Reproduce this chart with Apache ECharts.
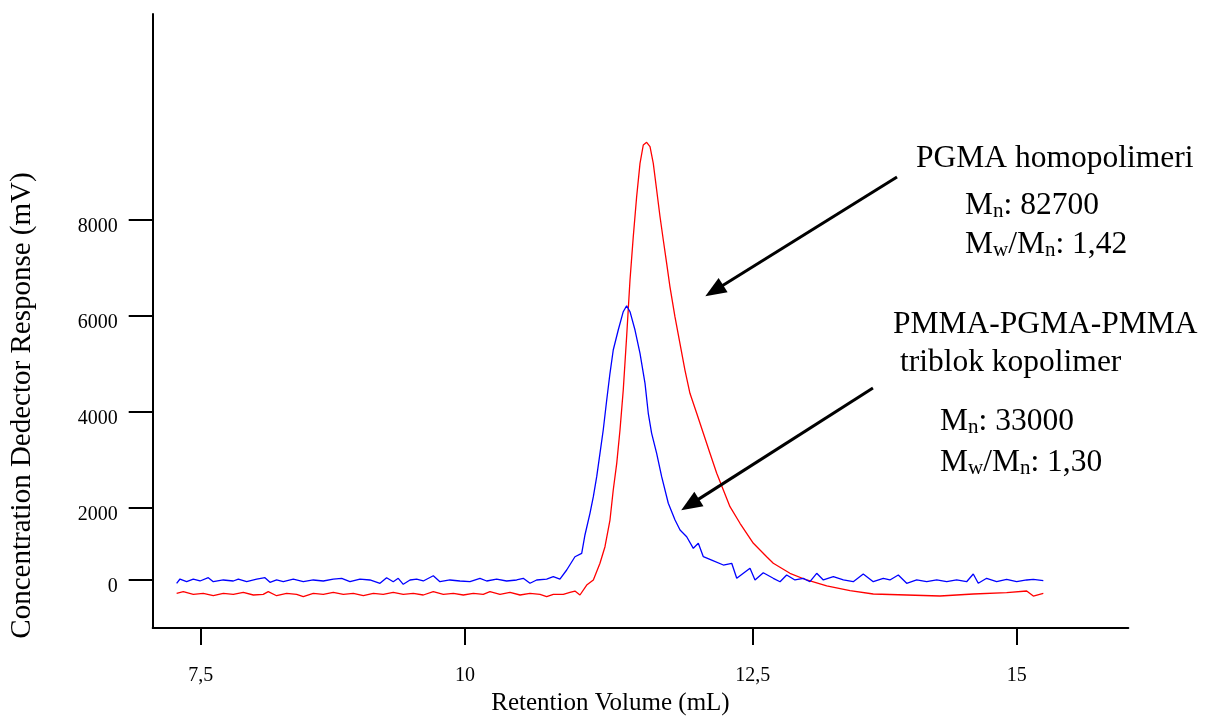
<!DOCTYPE html>
<html>
<head>
<meta charset="utf-8">
<script src="https://cdn.jsdelivr.net/npm/echarts@6/dist/echarts.min.js"></script>
<style>
html,body{margin:0;padding:0;background:#fff;}
#chart{width:1211px;height:718px;}
</style>
</head>
<body>
<div id="chart"></div>
<script>
// ---- data (x in mL, y in axis units of mV) ----
const blueX = [7.279,7.310,7.371,7.432,7.494,7.570,7.616,7.708,7.800,7.846,7.923,8.015,8.091,8.137,8.198,8.259,8.351,8.443,8.535,8.627,8.719,8.796,8.872,8.964,9.056,9.148,9.209,9.270,9.316,9.362,9.424,9.485,9.546,9.638,9.699,9.791,9.883,9.975,10.067,10.129,10.220,10.312,10.404,10.465,10.527,10.588,10.680,10.741,10.802,
  10.864,10.940,11.002,11.032,11.078,11.109,11.140,11.170,11.200,11.232,11.262,11.292,11.338,11.384,11.415,11.446,11.492,11.538,11.584,11.614,11.645,11.691,11.737,11.798,11.860,11.906,11.967,12.028,12.074,12.120,12.197,12.304,12.381,12.427,
  12.549,12.595,12.671,12.763,12.825,12.886,12.962,13.039,13.100,13.162,13.223,13.315,13.407,13.498,13.590,13.682,13.774,13.835,13.912,13.989,14.081,14.173,14.265,14.357,14.448,14.540,14.601,14.647,14.724,14.816,14.908,15.000,15.092,15.153,15.245];
const blueY = [417,506,450,506,465,534,450,486,465,506,450,506,534,438,486,450,506,450,486,465,506,521,450,506,486,417,534,450,521,396,486,506,465,575,450,486,465,450,521,465,506,465,486,521,417,486,506,554,506,
  694,971,1042,1424,1876,2222,2639,3127,3613,4238,4795,5280,5697,6079,6204,6079,5697,5212,4586,3961,3544,3127,2639,2085,1736,1528,1388,1146,1251,971,902,798,834,521,
  729,486,638,521,450,590,486,521,450,625,486,554,486,450,611,450,521,486,590,417,486,450,486,450,486,450,611,417,521,450,500,450,486,500,471];

const redX = [7.279,7.340,7.432,7.524,7.616,7.708,7.800,7.892,7.984,8.075,8.121,8.198,8.290,8.382,8.443,8.535,8.627,8.719,8.811,8.903,8.995,9.087,9.178,9.270,9.362,9.454,9.546,9.638,9.730,9.822,9.914,10.006,10.097,10.159,10.251,10.343,10.435,10.527,10.619,10.680,10.741,10.833,10.894,10.940,
  10.986,11.048,11.109,11.170,11.216,11.262,11.292,11.324,11.354,11.384,11.415,11.446,11.476,11.507,11.538,11.568,11.599,11.630,11.660,11.691,11.722,11.752,11.783,11.813,11.859,11.905,11.951,11.997,12.059,12.120,12.181,12.243,12.304,12.365,12.457,12.580,12.702,
  12.763,12.916,13.070,13.254,13.468,13.682,13.989,14.295,14.601,14.908,15.092,15.153,15.245];
const redY = [208,242,187,208,158,208,187,229,173,187,242,158,208,187,137,208,187,229,187,208,158,208,187,229,187,208,173,242,187,208,173,208,187,242,187,229,173,208,187,137,187,187,229,256,
  173,381,486,834,1180,1736,2362,2918,3613,4447,5558,6740,7642,8476,9172,9554,9610,9519,9172,8616,8059,7574,7088,6600,5975,5420,4863,4378,3961,3544,3127,2710,2362,2014,1668,1251,971,
  834,625,486,361,263,194,173,152,194,221,256,152,208];

// tick marks as placed in the reference (its marks are not evenly spaced)
const xTickValues = [7.5, 9.929, 12.574, 15];
const xTickLabels = ['7,5', '10', '12,5', '15'];
const yTickValues = [500, 2000, 4000, 6000, 8000];
const yTickLabels = ['0', '2000', '4000', '6000', '8000'];

// annotation arrows: [tailX, tailY, headX, headY] in data units
const arrowPGMA = [13.900, 8887, 12.220, 6517];
const arrowTriblock = [13.679, 4488, 11.998, 2057];

const FONT = '"Liberation Serif","Times New Roman",serif';

function pairs(xs, ys) { return xs.map((x, i) => [x, ys[i]]); }
function lookup(vals, labels, v) {
  for (let i = 0; i < vals.length; i++) if (Math.abs(vals[i] - v) < 1e-6) return labels[i];
  return '';
}

const chart = echarts.init(document.getElementById('chart'), null, {renderer: 'canvas'});

const rich = {
  sub: {fontSize: 21, lineHeight: 21, verticalAlign: 'bottom', fontFamily: FONT, fill: '#000', color: '#000'}
};
function txt(x, top, text) {
  return {
    type: 'text', left: x, top: top, silent: true,
    style: {text: text, fontSize: 31.5, fontFamily: FONT, lineHeight: 31, fill: '#000', rich: rich}
  };
}

const option = {
  animation: false,
  backgroundColor: '#fff',
  grid: {left: 152.7, right: 82.7, top: 14, bottom: 90, containLabel: false, outerBoundsMode: 'none'},
  xAxis: {
    type: 'value', min: 7.059, max: 16.026,
    name: 'Retention Volume (mL)', nameLocation: 'middle', nameGap: 63,
    nameTextStyle: {fontFamily: FONT, fontSize: 25, color: '#000', padding: [0, 60, 0, 0]},
    axisLine: {show: true, onZero: false, lineStyle: {color: '#000', width: 2}},
    axisTick: {show: true, length: 17, lineStyle: {color: '#000', width: 2}, customValues: xTickValues},
    axisLabel: {show: true, margin: 38, fontFamily: FONT, fontSize: 20, color: '#000', customValues: xTickValues,
      formatter: v => lookup(xTickValues, xTickLabels, v)},
    splitLine: {show: false}
  },
  yAxis: {
    type: 'value', min: -515, max: 12285,
    name: 'Concentration Dedector Response (mV)', nameLocation: 'middle', nameGap: 116,
    nameTextStyle: {fontFamily: FONT, fontSize: 29, color: '#000', padding: [0, 169, 0, 0]},
    axisLine: {show: true, onZero: false, lineStyle: {color: '#000', width: 2}},
    axisTick: {show: true, length: 24, lineStyle: {color: '#000', width: 2}, customValues: yTickValues},
    axisLabel: {show: true, margin: 35, fontFamily: FONT, fontSize: 20, color: '#000', customValues: yTickValues,
      verticalAlign: 'top', lineHeight: 14,
      formatter: v => lookup(yTickValues, yTickLabels, v)},
    splitLine: {show: false}
  },
  series: [
    {
      name: 'PMMA-PGMA-PMMA', type: 'line', data: pairs(blueX, blueY), showSymbol: false, smooth: false,
      lineStyle: {color: '#0000ff', width: 1.3}, z: 3
    },
    {
      name: 'PGMA', type: 'line', data: pairs(redX, redY), showSymbol: false, smooth: false,
      lineStyle: {color: '#ff0000', width: 1.3}, z: 2,
      markLine: {
        silent: true, animation: false,
        symbol: ['none', 'triangle'],
        symbolSize: [17, 21],
        label: {show: false},
        lineStyle: {color: '#000', width: 3, type: 'solid'},
        emphasis: {disabled: true},
        data: [
          [{coord: [arrowPGMA[0], arrowPGMA[1]]}, {coord: [arrowPGMA[2], arrowPGMA[3]]}],
          [{coord: [arrowTriblock[0], arrowTriblock[1]]}, {coord: [arrowTriblock[2], arrowTriblock[3]]}]
        ]
      }
    }
  ],
  graphic: [
    txt(916, 143, 'PGMA homopolimeri'),
    txt(965, 190, 'M{sub|n}: 82700'),
    txt(965, 229, 'M{sub|w}/M{sub|n}: 1,42'),
    txt(893, 309, 'PMMA-PGMA-PMMA'),
    txt(900, 347, 'triblok kopolimer'),
    txt(940, 406, 'M{sub|n}: 33000'),
    txt(940, 447, 'M{sub|w}/M{sub|n}: 1,30')
  ]
};
chart.setOption(option);
</script>
</body>
</html>
